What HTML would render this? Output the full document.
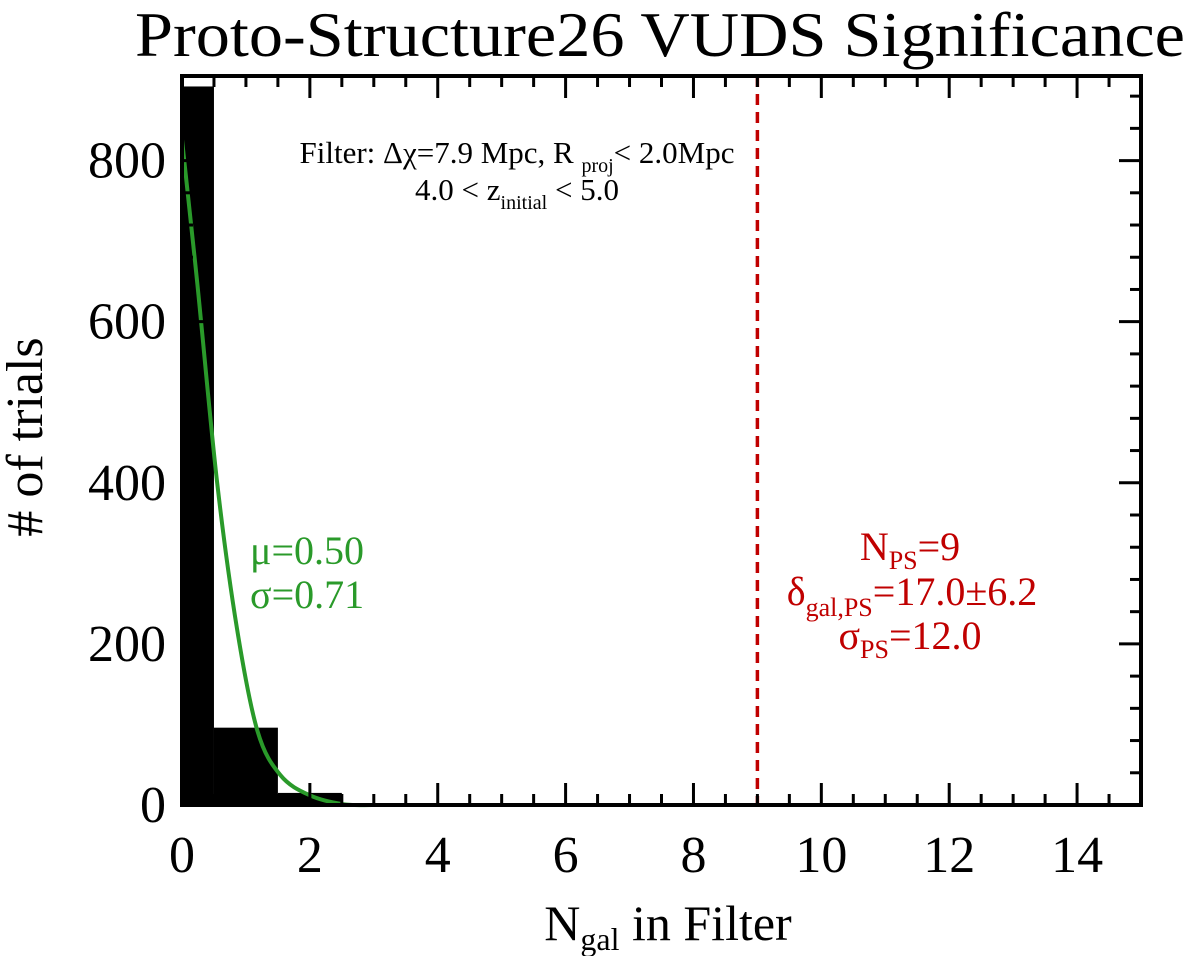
<!DOCTYPE html>
<html><head><meta charset="utf-8"><style>
html,body{margin:0;padding:0;background:#fff}
svg{display:block;font-family:"Liberation Serif",serif}
</style></head><body>
<svg id="chart" width="1200" height="956" viewBox="0 0 1200 956">
<text x="660" y="56" text-anchor="middle" font-size="64" textLength="1050" lengthAdjust="spacingAndGlyphs">Proto-Structure26 VUDS Significance</text>
<g id="bars"></g>
<g id="curve"></g>
<g id="axes"></g>
<text x="517" y="163" text-anchor="middle" font-size="31">Filter: Δχ=7.9 Mpc, R <tspan font-size="20" dy="9">proj</tspan><tspan dy="-9">&lt; 2.0Mpc</tspan></text>
<text x="517" y="200" text-anchor="middle" font-size="31">4.0 &lt; z<tspan font-size="20" dy="9">initial</tspan><tspan dy="-9"> &lt; 5.0</tspan></text>
<text x="250" y="564" font-size="40" fill="#2a9a2a">μ=0.50</text>
<text x="250" y="608" font-size="40" fill="#2a9a2a">σ=0.71</text>
<g fill="#c00000" font-size="40" text-anchor="middle">
<text x="910" y="560">N<tspan font-size="26" dy="9">PS</tspan><tspan dy="-9">=9</tspan></text>
<text x="912" y="605">δ<tspan font-size="26" dy="11">gal,PS</tspan><tspan dy="-11">=17.0±6.2</tspan></text>
<text x="910" y="649">σ<tspan font-size="26" dy="9">PS</tspan><tspan dy="-9">=12.0</tspan></text>
</g>
<text x="668" y="940" text-anchor="middle" font-size="50">N<tspan font-size="32" dy="10">gal</tspan><tspan dy="-10"> in Filter</tspan></text>
<text transform="translate(42,437) rotate(-90)" text-anchor="middle" font-size="52"># of trials</text>
</svg>
<script>
const binLeft = [0, 0.5, 1.5, 2.5];
const binRight = [0.5, 1.5, 2.5, 3.5];
const binCounts = [892, 96, 15, 0];
const curveX = [0, 0.24, 0.55, 0.86, 1.18, 1.54, 2.0, 2.52, 3.0, 3.5];
const curveY = [826, 647, 400, 219, 92, 37, 12, 1, 0, 0];
const xTicks = [0, 2, 4, 6, 8, 10, 12, 14];
const yTicks = [0, 200, 400, 600, 800];
const psValue = 9;

const X0=182, X1=1141, Y0=805, Y1=76, XMIN=0, XMAX=15, YMIN=0, YMAX=905;
const sx = v => X0 + (v-XMIN)/(XMAX-XMIN)*(X1-X0);
const sy = v => Y0 - (v-YMIN)/(YMAX-YMIN)*(Y0-Y1);
const NS='http://www.w3.org/2000/svg';
function mk(tag, attrs, parent){const e=document.createElementNS(NS,tag);for(const k in attrs)e.setAttribute(k,attrs[k]);parent.appendChild(e);return e;}
const bars=document.getElementById('bars');
binCounts.forEach((c,i)=>{
  if(c<=0) return;
  const r=mk('rect',{x:sx(binLeft[i]),y:sy(c),width:sx(binRight[i])-sx(binLeft[i]),height:sy(0)-sy(c),fill:'#000'},bars);
  
  
});
const cg=document.getElementById('curve');
const pts=curveX.map((x,i)=>[sx(x),sy(curveY[i])]);
let d='M'+pts[0][0]+','+pts[0][1];
for(let i=0;i<pts.length-1;i++){
  const p0=pts[Math.max(0,i-1)],p1=pts[i],p2=pts[i+1],p3=pts[Math.min(pts.length-1,i+2)];
  const c1=[p1[0]+(p2[0]-p0[0])/6,p1[1]+(p2[1]-p0[1])/6];
  const c2=[p2[0]-(p3[0]-p1[0])/6,p2[1]-(p3[1]-p1[1])/6];
  d+=' C'+c1.join(',')+' '+c2.join(',')+' '+p2.join(',');
}
const p=mk('path',{d:d,fill:'none',stroke:'#2a9a2a','stroke-width':4},cg);


const ax=document.getElementById('axes');
const ps=mk('line',{x1:sx(psValue),x2:sx(psValue),y1:Y1,y2:Y0,stroke:'#c00000','stroke-width':3.5,'stroke-dasharray':'11,7'},ax);


const fr=mk('rect',{x:X0,y:Y1,width:X1-X0,height:Y0-Y1,fill:'none',stroke:'#000','stroke-width':4},ax);


for(let v=0;v<=XMAX+1e-9;v+=0.5){
  const major=Math.abs(v/2-Math.round(v/2))<1e-6, L=major?22:11, x=sx(v);
  mk('line',{x1:x,x2:x,y1:Y0,y2:Y0-L,stroke:'#000','stroke-width':3},ax);
  mk('line',{x1:x,x2:x,y1:Y1,y2:Y1+L,stroke:'#000','stroke-width':3},ax);
}
for(let v=0;v<=YMAX;v+=40){
  const major=v%200===0, L=major?22:11, y=sy(v);
  mk('line',{x1:X0,x2:X0+L,y1:y,y2:y,stroke:'#000','stroke-width':3},ax);
  mk('line',{x1:X1,x2:X1-L,y1:y,y2:y,stroke:'#000','stroke-width':3},ax);
}
xTicks.forEach(v=>{
  const t=mk('text',{x:sx(v),y:872,'text-anchor':'middle','font-size':52},ax);
  t.textContent=v;
  
  
});
yTicks.forEach(v=>{
  const t=mk('text',{x:166,y:sy(v)+17,'text-anchor':'end','font-size':52},ax);
  t.textContent=v;
  
  
});
</script>
</body></html>
